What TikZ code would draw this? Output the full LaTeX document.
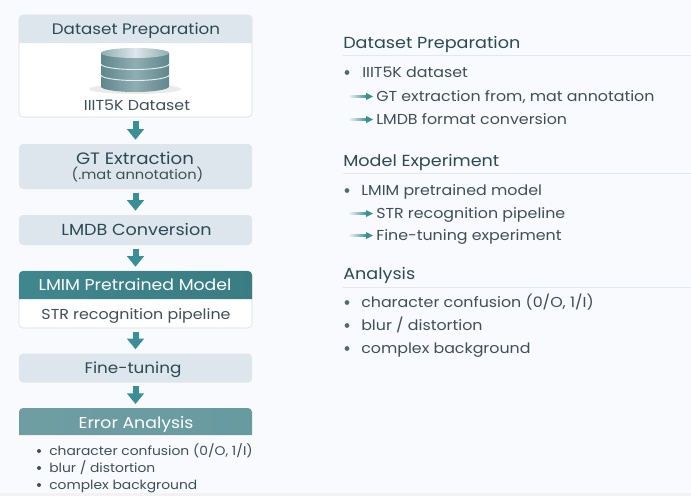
\documentclass[tikz,border=0pt]{standalone}
\usepackage{fontspec}
\setmainfont{Poppins}[FakeStretch=1.1]
\usetikzlibrary{arrows.meta,calc}
\definecolor{pagebg}{HTML}{F9FAFD}
\definecolor{boxblue}{HTML}{DDE6EC}
\definecolor{edgeblue}{HTML}{D5DEE5}
\definecolor{teal}{HTML}{3A8F97}
\definecolor{headteal}{HTML}{3F878E}
\definecolor{softteal}{HTML}{6F9DA2}
\definecolor{drumside}{HTML}{5F878C}
\definecolor{drummid}{HTML}{8FAEB2}
\definecolor{inkdark}{HTML}{2B4A55}
\definecolor{inkbody}{HTML}{3E4F58}
\tikzset{
  stepbox/.style={fill=boxblue, rounded corners=3pt, minimum width=174.75pt, inner sep=0pt},
  steptitle/.style={anchor=base, text=inkdark, font=\fontsize{12}{14}\selectfont, inner sep=0pt},
  stepnote/.style={anchor=base, text=inkbody, font=\fontsize{10.8}{13}\selectfont, inner sep=0pt},
  headtext/.style={anchor=base, text=white, font=\fontsize{11.8}{14}\selectfont, inner sep=0pt},
  flowarrow/.style={draw=teal, line width=4.5pt, -{Triangle[width=12.5pt,length=8pt]},
    shorten <=2.5pt, shorten >=3pt},
  sidehead/.style={anchor=base west, inner sep=0pt, text=inkdark, font=\fontsize{12}{14}\selectfont},
  sideitem/.style={anchor=base west, inner sep=0pt, text=inkbody, font=\fontsize{10.8}{13}\selectfont},
  erritem/.style={anchor=base west, inner sep=0pt, text=inkbody, font=\fontsize{9.45}{12}\selectfont},
  dotmark/.style={circle, fill=softteal!70!black, inner sep=0pt, minimum size=3.6pt},
  siderule/.style={draw=edgeblue!70!white, line width=0.6pt},
}
\begin{document}
\begin{tikzpicture}[x=0.75pt,y=-0.75pt]
  \useasboundingbox (0,0) rectangle (691,496);
  \fill[pagebg] (0,0) rectangle (691,496);
  \fill[black!5] (0,493) rectangle (691,496);

  % left column
  \node[stepbox, fill=white, draw=edgeblue, minimum height=76.5pt] (datacard) at (135.5,66) {};
  \fill[boxblue] (19,43) -- (19,19) arc[start angle=180, end angle=270, radius=4]
    -- (248,15) arc[start angle=270, end angle=360, radius=4] -- (252,43) -- cycle;
  \node[steptitle, font=\fontsize{11.4}{14}\selectfont] (datahead) at (136,34) {Dataset Preparation};

  % drum
  \fill[black!30, opacity=0.25] (135,89) ellipse (46 and 5);
  \foreach \yt in {75,64,53} {
    \shade[left color=drumside, right color=drumside, middle color=drummid]
      (101,\yt) -- (101,\yt+11.5) arc[start angle=180, end angle=0, x radius=34, y radius=5.5] -- (169,\yt) -- cycle;
  }
  \foreach \yt in {64,53}
    \draw[white!85!drumside, line width=0.7pt] (101,\yt+11) arc[start angle=180, end angle=0, x radius=34, y radius=5.5];
  \shade[left color=drummid, right color=drummid, middle color=boxblue]
    (135,53) ellipse (34 and 5);
  \node[stepnote] (datalabel) at (137,110) {IIIT5K Dataset};

  \node[stepbox, minimum height=33.75pt] (gt) at (135.5,166.5) {};
  \node[steptitle, font=\fontsize{12.4}{14}\selectfont] (gttitle) at (135,164) {GT Extraction};
  \node[stepnote, font=\fontsize{10}{12}\selectfont] (gtnote) at (137.5,179) {(.mat annotation)};

  \node[stepbox, minimum height=22.5pt] (lmdb) at (135.5,230) {};
  \node[steptitle] (lmdbtitle) at (136.5,235) {LMDB Conversion};

  \node[stepbox, fill=white, draw=edgeblue, minimum height=42.75pt] (model) at (135.5,299.5) {};
  \shade[left color=headteal, right color=headteal!92!black]
    (19,299) -- (19,275) arc[start angle=180, end angle=270, radius=4]
    -- (248,271) arc[start angle=270, end angle=360, radius=4] -- (252,299) -- cycle;
  \node[headtext] (modelhead) at (135,290) {LMIM Pretrained Model};
  \node[stepnote] (modelnote) at (136,319) {STR recognition pipeline};

  \node[stepbox, minimum height=21.75pt] (fine) at (135.5,368) {};
  \node[steptitle, font=\fontsize{11.45}{14}\selectfont] (finetitle) at (133,373) {Fine-tuning};

  \shade[left color=softteal, right color=softteal!85!teal]
    (19,435) -- (19,412) arc[start angle=180, end angle=270, radius=4]
    -- (248,408) arc[start angle=270, end angle=360, radius=4] -- (252,435) -- cycle;
  \coordinate (error) at (135.5,408);
  \node[headtext] (errorhead) at (136,428) {Error Analysis};

  \node[erritem] (errone) at (49,455) {character confusion (0/O, 1/I)};
  \node[erritem] (errtwo) at (49,472) {blur / distortion};
  \node[erritem] (errthree) at (49,489) {complex background};
  \foreach \n in {errone,errtwo,errthree}
    \node[dotmark, minimum size=3pt, fill=inkbody] at ($(\n.base west)+(-10,-4)$) {};

  \draw[flowarrow] (datacard) -- (gt);
  \draw[flowarrow] (gt) -- (lmdb);
  \draw[flowarrow] (lmdb) -- (model);
  \draw[flowarrow] (model) -- (fine);
  \draw[flowarrow] (fine) -- (error);

  % right column
  \coordinate (railone) at (691,55);
  \coordinate (railtwo) at (691,173);
  \coordinate (railthree) at (691,287);

  \node[sidehead] (headone) at (343,48) {Dataset Preparation};
  \node[sidehead] (headtwo) at (343,166) {Model Experiment};
  \node[sidehead] (headthree) at (343,279) {Analysis};
  \draw[siderule] (headone.west |- railone) -- (railone);
  \draw[siderule] (headtwo.west |- railtwo) -- (railtwo);
  \draw[siderule] (headthree.west |- railthree) -- (railthree);

  \node[sideitem] (iiit) at (362,77) {IIIT5K dataset};
  \node[sideitem] (gtline) at (376,101) {GT extraction from, mat annotation};
  \node[sideitem] (lmdbline) at (376,124) {LMDB format conversion};
  \node[sideitem] (lmim) at (361,195) {LMIM pretrained model};
  \node[sideitem] (strline) at (376,218) {STR recognition pipeline};
  \node[sideitem] (fineline) at (376,240) {Fine-tuning experiment};
  \node[sideitem] (confusion) at (361,307) {character confusion (0/O, 1/I)};
  \node[sideitem] (blur) at (361,330) {blur / distortion};
  \node[sideitem] (complex) at (361,353) {complex background};

  \foreach \n in {iiit,lmim,confusion,blur,complex}
    \node[dotmark] at ($(347,0 |- \n.base west)+(0,-4.5)$) {};

  \foreach \n in {gtline,lmdbline,strline,fineline} {
    \shade[left color=pagebg, right color=teal] ($(\n.base west)+(-28,-5.3)$) rectangle ($(\n.base west)+(-9,-3.7)$);
    \fill[teal] ($(\n.base west)+(-3,-4.5)$) -- ($(\n.base west)+(-10,-8)$) -- ($(\n.base west)+(-10,-1)$) -- cycle;
  }
\end{tikzpicture}
\end{document}
